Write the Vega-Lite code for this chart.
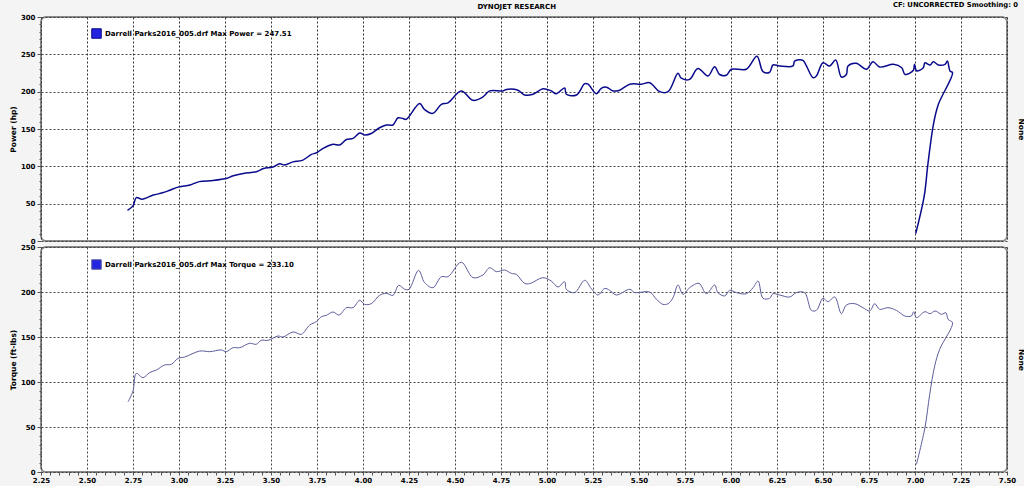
{
  "$schema": "https://vega.github.io/schema/vega-lite/v6.json",
  "background": "#f4f4f4",
  "padding": {"left": 8, "top": 1, "right": 0, "bottom": 2},
  "title": {"text": "DYNOJET RESEARCH", "fontSize": 7, "fontWeight": "bold", "font": "DejaVu Sans", "anchor": "middle", "offset": 4, "dy": 13, "color": "#000"},
  "datasets": {
    "power": [
      {"i":1,"rpm":2.72,"hp":41},{"i":2,"rpm":2.75,"hp":47},{"i":3,"rpm":2.768,"hp":58},{"i":4,"rpm":2.8,"hp":56},{"i":5,"rpm":2.86,"hp":61.5},{"i":6,"rpm":2.91,"hp":64.5},{"i":7,"rpm":2.95,"hp":68},{"i":8,"rpm":3.0,"hp":72.5},{"i":9,"rpm":3.06,"hp":75},{"i":10,"rpm":3.11,"hp":79.5},
      {"i":11,"rpm":3.185,"hp":81},{"i":12,"rpm":3.26,"hp":84},{"i":13,"rpm":3.29,"hp":87},{"i":14,"rpm":3.35,"hp":90.5},{"i":15,"rpm":3.42,"hp":92.8},{"i":16,"rpm":3.46,"hp":97},{"i":17,"rpm":3.51,"hp":99},{"i":18,"rpm":3.547,"hp":103.5},{"i":19,"rpm":3.574,"hp":101.8},{"i":20,"rpm":3.62,"hp":106},
      {"i":21,"rpm":3.67,"hp":108},{"i":22,"rpm":3.72,"hp":116},{"i":23,"rpm":3.746,"hp":118},{"i":24,"rpm":3.783,"hp":124},{"i":25,"rpm":3.837,"hp":129.5},{"i":26,"rpm":3.873,"hp":128.6},{"i":27,"rpm":3.91,"hp":136},{"i":28,"rpm":3.946,"hp":137.5},{"i":29,"rpm":3.982,"hp":144.6},{"i":30,"rpm":4.009,"hp":142},
      {"i":31,"rpm":4.045,"hp":144},{"i":32,"rpm":4.09,"hp":151.7},{"i":33,"rpm":4.127,"hp":155.4},{"i":34,"rpm":4.163,"hp":155.4},{"i":35,"rpm":4.19,"hp":165},{"i":36,"rpm":4.217,"hp":164},{"i":37,"rpm":4.235,"hp":163},{"i":38,"rpm":4.308,"hp":184},{"i":39,"rpm":4.335,"hp":176},{"i":40,"rpm":4.38,"hp":171},
      {"i":41,"rpm":4.426,"hp":183},{"i":42,"rpm":4.462,"hp":185},{"i":43,"rpm":4.534,"hp":201},{"i":44,"rpm":4.598,"hp":188.4},{"i":45,"rpm":4.652,"hp":193},{"i":46,"rpm":4.688,"hp":201},{"i":47,"rpm":4.76,"hp":201},{"i":48,"rpm":4.78,"hp":203},{"i":49,"rpm":4.842,"hp":202},{"i":50,"rpm":4.879,"hp":195.5},
      {"i":51,"rpm":4.924,"hp":196.5},{"i":52,"rpm":4.978,"hp":204},{"i":53,"rpm":5.023,"hp":201},{"i":54,"rpm":5.05,"hp":197.3},{"i":55,"rpm":5.096,"hp":205},{"i":56,"rpm":5.105,"hp":196.5},{"i":57,"rpm":5.16,"hp":195.5},{"i":58,"rpm":5.205,"hp":210.7},{"i":59,"rpm":5.223,"hp":210},{"i":60,"rpm":5.268,"hp":197.3},
      {"i":61,"rpm":5.295,"hp":204.5},{"i":62,"rpm":5.323,"hp":206},{"i":63,"rpm":5.359,"hp":201},{"i":64,"rpm":5.395,"hp":202},{"i":65,"rpm":5.45,"hp":210},{"i":66,"rpm":5.513,"hp":210},{"i":67,"rpm":5.558,"hp":212},{"i":68,"rpm":5.613,"hp":200},{"i":69,"rpm":5.658,"hp":200},{"i":70,"rpm":5.712,"hp":224.6},
      {"i":71,"rpm":5.73,"hp":218},{"i":72,"rpm":5.775,"hp":216.5},{"i":73,"rpm":5.82,"hp":231},{"i":74,"rpm":5.875,"hp":221},{"i":75,"rpm":5.911,"hp":233.5},{"i":76,"rpm":5.938,"hp":223},{"i":77,"rpm":5.974,"hp":222},{"i":78,"rpm":6.002,"hp":230},{"i":79,"rpm":6.083,"hp":230},{"i":80,"rpm":6.141,"hp":247.5},
      {"i":81,"rpm":6.174,"hp":226.8},{"i":82,"rpm":6.21,"hp":226},{"i":83,"rpm":6.228,"hp":235.7},{"i":84,"rpm":6.264,"hp":234.4},{"i":85,"rpm":6.337,"hp":234.4},{"i":86,"rpm":6.346,"hp":241},{"i":87,"rpm":6.391,"hp":242},{"i":88,"rpm":6.41,"hp":234.4},{"i":89,"rpm":6.446,"hp":218.7},{"i":90,"rpm":6.464,"hp":221},
      {"i":91,"rpm":6.5,"hp":238.8},{"i":92,"rpm":6.536,"hp":234.4},{"i":93,"rpm":6.569,"hp":242.4},{"i":94,"rpm":6.6,"hp":219.6},{"i":95,"rpm":6.627,"hp":223},{"i":96,"rpm":6.636,"hp":234.4},{"i":97,"rpm":6.681,"hp":238},{"i":98,"rpm":6.736,"hp":230},{"i":99,"rpm":6.772,"hp":240},{"i":100,"rpm":6.808,"hp":233},
      {"i":101,"rpm":6.883,"hp":236.6},{"i":102,"rpm":6.928,"hp":232},{"i":103,"rpm":6.946,"hp":223},{"i":104,"rpm":6.991,"hp":228.6},{"i":105,"rpm":6.997,"hp":236.6},{"i":106,"rpm":7.009,"hp":227.7},{"i":107,"rpm":7.045,"hp":232},{"i":108,"rpm":7.054,"hp":238.8},{"i":109,"rpm":7.082,"hp":235.7},{"i":110,"rpm":7.1,"hp":240},
      {"i":111,"rpm":7.127,"hp":235.7},{"i":112,"rpm":7.163,"hp":236.6},{"i":113,"rpm":7.176,"hp":241},{"i":114,"rpm":7.19,"hp":227.7},{"i":115,"rpm":7.204,"hp":225.4},{"i":116,"rpm":7.127,"hp":183},{"i":117,"rpm":7.1,"hp":156},{"i":118,"rpm":7.07,"hp":102.7},{"i":119,"rpm":7.05,"hp":60},{"i":120,"rpm":7.004,"hp":10}
    ],
    "torque": [
      {"i":1,"rpm":2.723,"tq":78},{"i":2,"rpm":2.75,"tq":90},{"i":3,"rpm":2.768,"tq":109.6},{"i":4,"rpm":2.804,"tq":104.8},{"i":5,"rpm":2.84,"tq":110.4},{"i":6,"rpm":2.877,"tq":113.3},{"i":7,"rpm":2.922,"tq":118.9},{"i":8,"rpm":2.958,"tq":119.6},{"i":9,"rpm":2.995,"tq":126.3},{"i":10,"rpm":3.031,"tq":127.8},
      {"i":11,"rpm":3.113,"tq":134.4},{"i":12,"rpm":3.167,"tq":133.7},{"i":13,"rpm":3.23,"tq":135.6},{"i":14,"rpm":3.257,"tq":133.7},{"i":15,"rpm":3.293,"tq":138.1},{"i":16,"rpm":3.33,"tq":138.1},{"i":17,"rpm":3.384,"tq":143},{"i":18,"rpm":3.42,"tq":141.9},{"i":19,"rpm":3.447,"tq":146.3},{"i":20,"rpm":3.484,"tq":146.3},
      {"i":21,"rpm":3.538,"tq":151.1},{"i":22,"rpm":3.565,"tq":150},{"i":23,"rpm":3.62,"tq":155.6},{"i":24,"rpm":3.665,"tq":153},{"i":25,"rpm":3.71,"tq":163.3},{"i":26,"rpm":3.746,"tq":167},{"i":27,"rpm":3.774,"tq":172.6},{"i":28,"rpm":3.8,"tq":174},{"i":29,"rpm":3.837,"tq":177.8},{"i":30,"rpm":3.87,"tq":174.4},
      {"i":31,"rpm":3.91,"tq":182.6},{"i":32,"rpm":3.946,"tq":182.6},{"i":33,"rpm":3.982,"tq":190.7},{"i":34,"rpm":4.009,"tq":186.3},{"i":35,"rpm":4.045,"tq":187},{"i":36,"rpm":4.09,"tq":196.3},{"i":37,"rpm":4.127,"tq":198.5},{"i":38,"rpm":4.163,"tq":196.3},{"i":39,"rpm":4.194,"tq":207.4},{"i":40,"rpm":4.227,"tq":203},
      {"i":41,"rpm":4.25,"tq":203},{"i":42,"rpm":4.302,"tq":224},{"i":43,"rpm":4.335,"tq":210.4},{"i":44,"rpm":4.38,"tq":204.8},{"i":45,"rpm":4.426,"tq":217},{"i":46,"rpm":4.462,"tq":217},{"i":47,"rpm":4.534,"tq":233.1},{"i":48,"rpm":4.598,"tq":215.9},{"i":49,"rpm":4.652,"tq":219},{"i":50,"rpm":4.688,"tq":227},
      {"i":51,"rpm":4.725,"tq":222.6},{"i":52,"rpm":4.77,"tq":224.4},{"i":53,"rpm":4.806,"tq":220.7},{"i":54,"rpm":4.833,"tq":219.6},{"i":55,"rpm":4.878,"tq":209.6},{"i":56,"rpm":4.906,"tq":209.3},{"i":57,"rpm":4.978,"tq":215.9},{"i":58,"rpm":5.023,"tq":212.2},{"i":59,"rpm":5.06,"tq":205.6},{"i":60,"rpm":5.096,"tq":211.5},
      {"i":61,"rpm":5.105,"tq":203},{"i":62,"rpm":5.15,"tq":199.3},{"i":63,"rpm":5.205,"tq":213},{"i":64,"rpm":5.241,"tq":203.7},{"i":65,"rpm":5.277,"tq":196.7},{"i":66,"rpm":5.314,"tq":204},{"i":67,"rpm":5.34,"tq":201.9},{"i":68,"rpm":5.377,"tq":196.7},{"i":69,"rpm":5.45,"tq":203},{"i":70,"rpm":5.477,"tq":199.3},
      {"i":71,"rpm":5.558,"tq":200},{"i":72,"rpm":5.595,"tq":191.9},{"i":73,"rpm":5.63,"tq":186.3},{"i":74,"rpm":5.658,"tq":187},{"i":75,"rpm":5.685,"tq":193.7},{"i":76,"rpm":5.712,"tq":207.8},{"i":77,"rpm":5.739,"tq":197.4},{"i":78,"rpm":5.775,"tq":204.8},{"i":79,"rpm":5.826,"tq":209.6},{"i":80,"rpm":5.866,"tq":198.1},
      {"i":81,"rpm":5.911,"tq":207.8},{"i":82,"rpm":5.929,"tq":199.3},{"i":83,"rpm":5.966,"tq":195.6},{"i":84,"rpm":5.993,"tq":201.9},{"i":85,"rpm":6.03,"tq":199.3},{"i":86,"rpm":6.083,"tq":198.1},{"i":87,"rpm":6.12,"tq":204.8},{"i":88,"rpm":6.147,"tq":212.2},{"i":89,"rpm":6.174,"tq":193},{"i":90,"rpm":6.21,"tq":193},
      {"i":91,"rpm":6.228,"tq":198.1},{"i":92,"rpm":6.264,"tq":196.7},{"i":93,"rpm":6.319,"tq":194.4},{"i":94,"rpm":6.355,"tq":199.3},{"i":95,"rpm":6.4,"tq":199.3},{"i":96,"rpm":6.437,"tq":179.6},{"i":97,"rpm":6.464,"tq":179.6},{"i":98,"rpm":6.5,"tq":193},{"i":99,"rpm":6.527,"tq":189.3},{"i":100,"rpm":6.564,"tq":194.4},
      {"i":101,"rpm":6.6,"tq":175.9},{"i":102,"rpm":6.627,"tq":185.6},{"i":103,"rpm":6.673,"tq":187},{"i":104,"rpm":6.717,"tq":182.6},{"i":105,"rpm":6.754,"tq":178.9},{"i":106,"rpm":6.781,"tq":187},{"i":107,"rpm":6.808,"tq":180.7},{"i":108,"rpm":6.853,"tq":182.6},{"i":109,"rpm":6.899,"tq":179.6},{"i":110,"rpm":6.945,"tq":173.3},
      {"i":111,"rpm":6.98,"tq":173.3},{"i":112,"rpm":6.993,"tq":178.1},{"i":113,"rpm":7.008,"tq":171.5},{"i":114,"rpm":7.054,"tq":178.1},{"i":115,"rpm":7.082,"tq":175.9},{"i":116,"rpm":7.109,"tq":178.9},{"i":117,"rpm":7.145,"tq":175.2},{"i":118,"rpm":7.168,"tq":177},{"i":119,"rpm":7.18,"tq":169.6},{"i":120,"rpm":7.204,"tq":165.9},
      {"i":121,"rpm":7.134,"tq":136.3},{"i":122,"rpm":7.107,"tq":117.8},{"i":123,"rpm":7.08,"tq":86.3},{"i":124,"rpm":7.054,"tq":49.3},{"i":125,"rpm":7.008,"tq":8.5}
    ]
  },
  "vconcat": [
    {
      "width": 966,
      "height": 224,
      "title": {"text": "CF: UNCORRECTED  Smoothing: 0", "anchor": "end", "dx": -6, "fontSize": 6.8, "fontWeight": "bold", "font": "DejaVu Sans", "offset": 4, "color": "#000"},
      "data": {"name": "power"},
      "layer": [
        {
          "mark": {"type": "line", "strokeWidth": 1.5, "interpolate": "catmull-rom"},
          "encoding": {
            "x": {"field": "rpm", "type": "quantitative", "scale": {"domain": [2.25, 7.5], "nice": false, "zero": false},
                  "axis": {"values": [2.25,2.5,2.75,3,3.25,3.5,3.75,4,4.25,4.5,4.75,5,5.25,5.5,5.75,6,6.25,6.5,6.75,7,7.25,7.5], "tickCount": 500, "labels": false, "ticks": false, "title": null, "grid": true}},
            "y": {"field": "hp", "type": "quantitative", "scale": {"domain": [0, 300], "nice": false},
                  "axis": {"values": [0,10,20,30,40,50,60,70,80,90,100,110,120,130,140,150,160,170,180,190,200,210,220,230,240,250,260,270,280,290,300],
                           "tickCount": 500, "format": "d",
                           "labelExpr": "datum.value % 50 == 0 ? datum.label : ''", "labelOverlap": false,
                           "gridOpacity": {"condition": {"test": "datum.value % 50 == 0", "value": 0.9}, "value": 0},
                           "tickSize": {"condition": {"test": "datum.value % 50 == 0", "value": 4}, "value": 2},
                           "title": "Power (hp)", "titlePadding": 3, "grid": true}},
            "order": {"field": "i", "type": "quantitative"},
            "color": {"datum": "Darrell Parks2016_005.drf Max Power = 247.51", "type": "nominal", "scale": {"range": ["#0a0a8c"]},
                      "legend": {"orient": "none", "legendX": 50, "legendY": 11, "title": null, "labelLimit": 0,
                                 "encode": {"symbols": {"update": {"fill": {"value": "#2323e0"}, "stroke": {"value": "#000060"}, "strokeWidth": {"value": 1}, "shape": {"value": "square"}}}}}}
          }
        },
        {
          "mark": {"type": "line", "opacity": 0},
          "encoding": {
            "x": {"field": "rpm", "type": "quantitative"},
            "y": {"field": "hp", "type": "quantitative",
                  "axis": {"orient": "right", "title": "None", "titleAngle": 90, "labels": false, "ticks": false, "grid": false, "titlePadding": 9}}
          }
        }
      ],
      "resolve": {"axis": {"y": "independent"}}
    },
    {
      "width": 966,
      "height": 225,
      "data": {"name": "torque"},
      "layer": [
        {
          "mark": {"type": "line", "strokeWidth": 1, "interpolate": "catmull-rom"},
          "encoding": {
            "x": {"field": "rpm", "type": "quantitative", "scale": {"domain": [2.25, 7.5], "nice": false, "zero": false},
                  "axis": {"values": [2.25,2.3,2.35,2.4,2.45,2.5,2.55,2.6,2.65,2.7,2.75,2.8,2.85,2.9,2.95,3,3.05,3.1,3.15,3.2,3.25,3.3,3.35,3.4,3.45,3.5,3.55,3.6,3.65,3.7,3.75,3.8,3.85,3.9,3.95,4,4.05,4.1,4.15,4.2,4.25,4.3,4.35,4.4,4.45,4.5,4.55,4.6,4.65,4.7,4.75,4.8,4.85,4.9,4.95,5,5.05,5.1,5.15,5.2,5.25,5.3,5.35,5.4,5.45,5.5,5.55,5.6,5.65,5.7,5.75,5.8,5.85,5.9,5.95,6,6.05,6.1,6.15,6.2,6.25,6.3,6.35,6.4,6.45,6.5,6.55,6.6,6.65,6.7,6.75,6.8,6.85,6.9,6.95,7,7.05,7.1,7.15,7.2,7.25,7.3,7.35,7.4,7.45,7.5],
                           "tickCount": 500,
                           "format": ".2f",
                           "labelExpr": "abs(datum.value*4 - round(datum.value*4)) < 0.001 ? datum.label : ''", "labelOverlap": false,
                           "gridOpacity": {"condition": {"test": "abs(datum.value*4 - round(datum.value*4)) < 0.001", "value": 0.9}, "value": 0},
                           "tickSize": 3,
                           "title": null, "grid": true, "labelFlush": false, "labelPadding": 1}},
            "y": {"field": "tq", "type": "quantitative", "scale": {"domain": [0, 250], "nice": false},
                  "axis": {"values": [0,10,20,30,40,50,60,70,80,90,100,110,120,130,140,150,160,170,180,190,200,210,220,230,240,250],
                           "tickCount": 500, "format": "d",
                           "labelExpr": "datum.value % 50 == 0 ? datum.label : ''", "labelOverlap": false,
                           "gridOpacity": {"condition": {"test": "datum.value % 50 == 0", "value": 0.9}, "value": 0},
                           "tickSize": {"condition": {"test": "datum.value % 50 == 0", "value": 4}, "value": 2},
                           "title": "Torque (ft-lbs)", "titlePadding": 3, "grid": true}},
            "order": {"field": "i", "type": "quantitative"},
            "color": {"datum": "Darrell Parks2016_005.drf Max Torque = 233.10", "type": "nominal", "scale": {"range": ["#5c5c9c"]},
                      "legend": {"orient": "none", "legendX": 50, "legendY": 12, "title": null, "labelLimit": 0,
                                 "encode": {"symbols": {"update": {"fill": {"value": "#2323e0"}, "stroke": {"value": "#000060"}, "strokeWidth": {"value": 1}, "shape": {"value": "square"}}}}}}
          }
        },
        {
          "mark": {"type": "line", "opacity": 0},
          "encoding": {
            "x": {"field": "rpm", "type": "quantitative"},
            "y": {"field": "tq", "type": "quantitative",
                  "axis": {"orient": "right", "title": "None", "titleAngle": 90, "labels": false, "ticks": false, "grid": false, "titlePadding": 9}}
          }
        }
      ],
      "resolve": {"axis": {"y": "independent"}}
    }
  ],
  "spacing": 6,
  "bounds": "flush",
  "resolve": {"scale": {"color": "independent"}, "legend": {"color": "independent"}},
  "config": {
    "font": "DejaVu Sans",
    "view": {"stroke": "#8a8a8a", "strokeWidth": 2, "fill": "#ffffff", "cornerRadius": 5},
    "axis": {
      "labelFont": "DejaVu Sans", "labelFontSize": 7, "labelFontWeight": "bold", "labelColor": "#000",
      "titleFont": "DejaVu Sans", "titleFontSize": 7.5, "titleFontWeight": "bold", "titleColor": "#000",
      "gridColor": "#333", "gridDash": [2, 2], "gridWidth": 1,
      "domain": false, "tickColor": "#555", "labelPadding": 2
    },
    "legend": {"labelFont": "DejaVu Sans", "labelFontSize": 7, "labelFontWeight": "bold", "labelColor": "#000", "symbolSize": 90, "symbolType": "square", "padding": 0, "labelOffset": 3}
  }
}
